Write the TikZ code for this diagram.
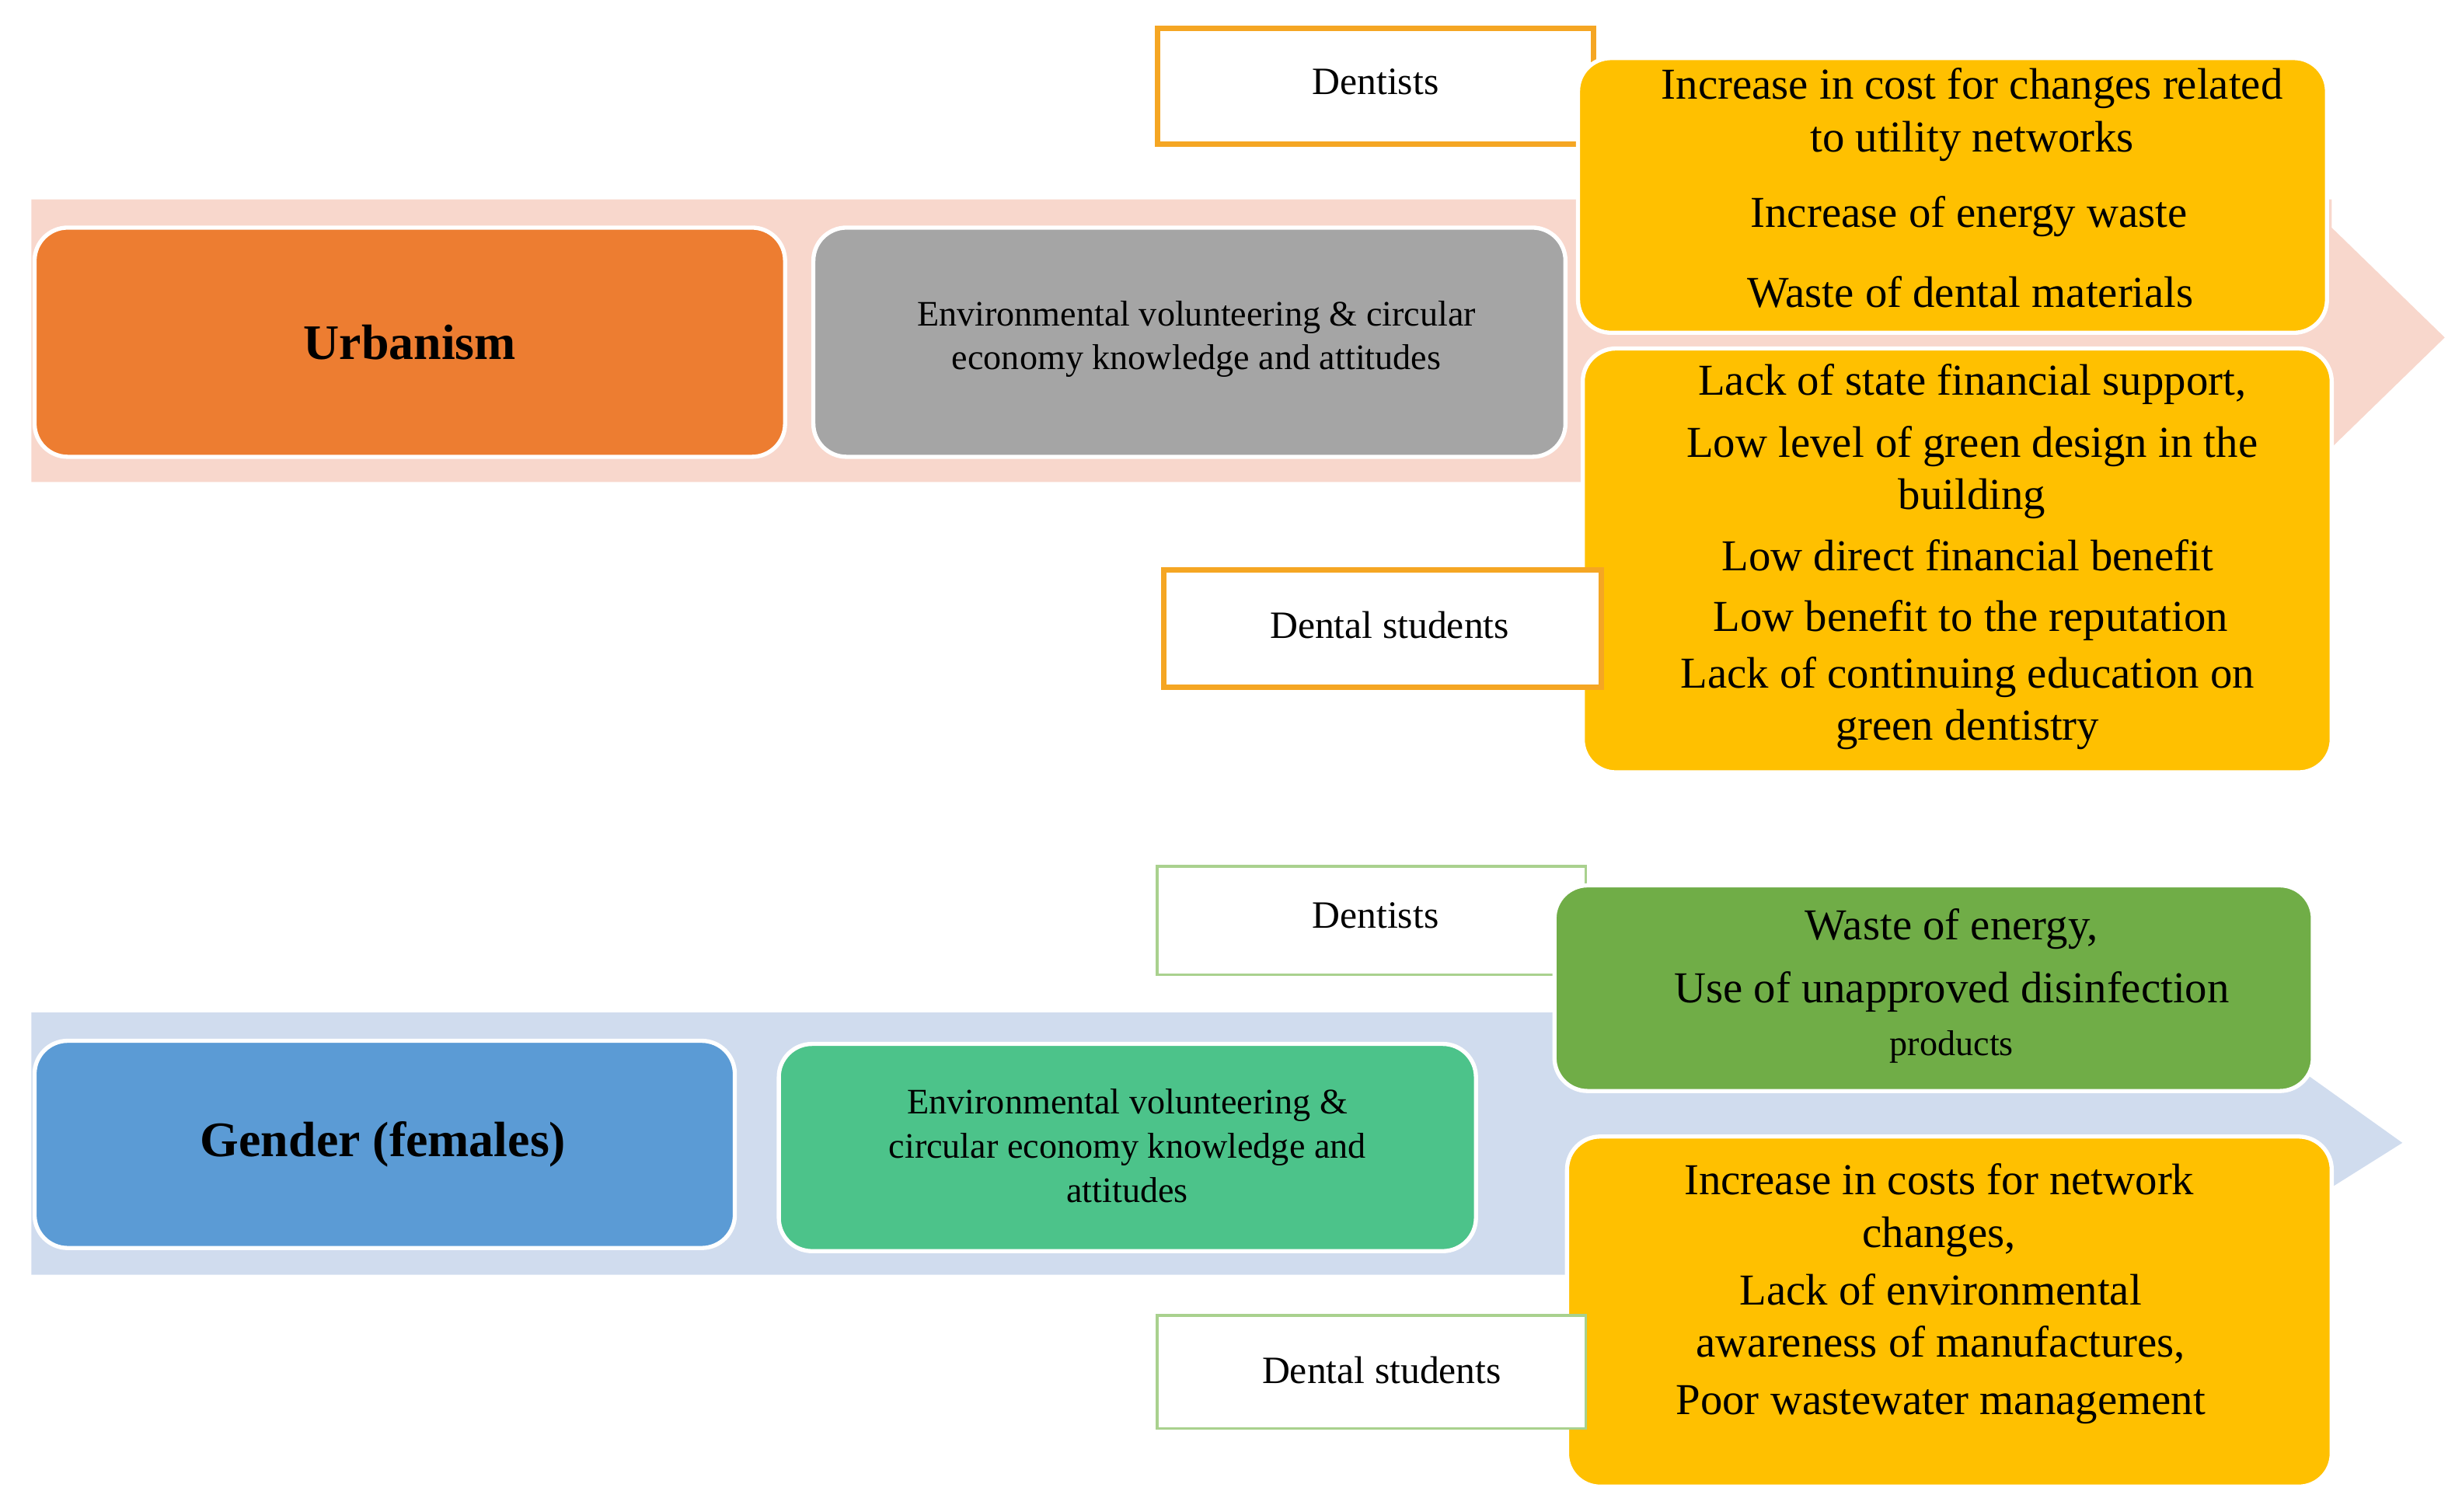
\documentclass[tikz,border=0pt]{standalone}
\usepackage{fontspec}
\setmainfont{Liberation Serif}
\definecolor{orng}{HTML}{ED7D31}
\definecolor{gry}{HTML}{A5A5A5}
\definecolor{yel}{HTML}{FFC000}
\definecolor{pnk}{HTML}{F8D7CC}
\definecolor{lblue}{HTML}{D0DCEE}
\definecolor{blu}{HTML}{5B9BD5}
\definecolor{grn}{HTML}{4CC38A}
\definecolor{dgrn}{HTML}{70AD47}
\definecolor{lgrn}{HTML}{A9D18E}
\definecolor{obrd}{HTML}{F5A623}
\begin{document}
\begin{tikzpicture}[x=0.2mm,y=-0.2mm,
  rbox/.style={draw=white,line width=1.5pt,rounded corners=12pt},
  wbox/.style={fill=white,line width=2pt},
  ytxt/.style={font=\fontsize{16}{19}\selectfont,align=center},
  btxt/.style={font=\fontsize{13}{16}\selectfont,align=center}]
\useasboundingbox (0,0) rectangle (1568,963);
% bands
\fill[pnk] (20,127) -- (1485,127) -- (1485,145) -- (1557,215) -- (1485,285) -- (1485,307) -- (20,307) -- cycle;
\fill[lblue] (20,645) -- (1460,645) -- (1460,678) -- (1530,728) -- (1460,772) -- (1460,812) -- (20,812) -- cycle;
% top row
\draw[rbox,fill=orng] (22,145) rectangle (500,291);
\node (urb) at (261,218) {\fontsize{18}{22}\selectfont\bfseries Urbanism};
\draw[rbox,fill=gry] (518,145) rectangle (997,291);
\node[btxt] (env1) at (762,216) {Environmental volunteering \& circular\\economy knowledge and attitudes};
\draw[wbox,draw=obrd] (737,18) rectangle (1015,92);
\node[font=\fontsize{14}{17}\selectfont] (d1) at (876,52) {Dentists};
\draw[rbox,fill=yel] (1005,37) rectangle (1482,212);
\node[ytxt] (y1a) at (1256,73) {Increase in cost for changes related\\to utility networks};
\node[ytxt] (y1b) at (1254,138) {Increase of energy waste};
\node[ytxt] (y1c) at (1255,186) {Waste of dental materials};
\draw[rbox,fill=yel] (1008,222) rectangle (1485,492);
\node[ytxt] (y2a) at (1256,245) {Lack of state financial support,};
\node[ytxt] (y2b) at (1256,301) {Low level of green design in the\\building};
\node[ytxt] (y2c) at (1253,354) {Low direct financial benefit};
\node[ytxt] (y2d) at (1255,395) {Low benefit to the reputation};
\node[ytxt] (y2e) at (1253,448) {Lack of continuing education on\\green dentistry};
\draw[wbox,draw=obrd] (741,363) rectangle (1020,438);
\node[font=\fontsize{14}{17}\selectfont] (s1) at (885,398) {Dental students};
% bottom row
\draw[rbox,fill=blu] (22,663) rectangle (468,795);
\node (gen) at (244,729) {\fontsize{18}{22}\selectfont\bfseries Gender (females)};
\draw[rbox,fill=grn] (496,665) rectangle (940,797);
\node[btxt] (env2) at (718,730) {Environmental volunteering \&\\circular economy knowledge and\\attitudes};
\draw[wbox,draw=lgrn,line width=1pt] (737,552) rectangle (1010,621);
\node[font=\fontsize{14}{17}\selectfont] (d2) at (876,583) {Dentists};
\draw[rbox,fill=dgrn] (990,564) rectangle (1473,695);
\node[ytxt] (g1) at (1243,592) {Waste of energy,};
\node[ytxt] (g2) at (1243,648) {Use of unapproved disinfection\\{\fontsize{13}{16}\selectfont products}};
\draw[rbox,fill=yel] (998,724) rectangle (1485,947);
\node[ytxt] (y3a) at (1235,771) {Increase in costs for network\\changes,};
\node[ytxt] (y3b) at (1236,840) {Lack of environmental\\awareness of manufactures,};
\node[ytxt] (y3c) at (1236,895) {Poor wastewater management};
\draw[wbox,draw=lgrn,line width=1pt] (737,838) rectangle (1010,910);
\node[font=\fontsize{14}{17}\selectfont] (s2) at (880,873) {Dental students};
\end{tikzpicture}
\end{document}
